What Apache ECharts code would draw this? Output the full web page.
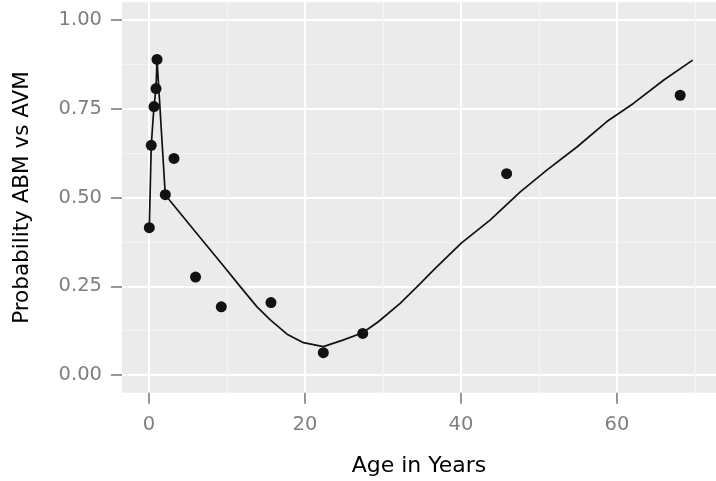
<!DOCTYPE html>
<html>
<head>
<meta charset="utf-8">
<script src="https://cdn.jsdelivr.net/npm/echarts@6/dist/echarts.min.js"></script>
<style>
html,body{margin:0;padding:0;background:#fff;}
#chart{width:716px;height:481px;}
</style>
</head>
<body>
<div id="chart"></div>
<script>
// Observed data points (age in years, probability ABM vs AVM)
var pointAges  = [0.04, 0.29, 0.64, 0.90, 1.03, 2.09, 3.2, 5.97, 9.27, 15.64, 22.35, 27.4, 45.85, 68.1];
var pointProbs = [0.415, 0.647, 0.756, 0.807, 0.889, 0.508, 0.610, 0.276, 0.192, 0.204, 0.063, 0.117, 0.567, 0.788];

// Fitted curve
var fitAges  = [0.04, 0.29, 0.64, 0.90, 1.03, 2.09, 5.97, 9.27, 11.7, 13.85, 15.55, 17.7, 19.8, 22.35, 24.95, 27.4, 29.4, 32.2, 34.8, 36.5, 40.0, 43.76, 47.6, 51.0, 54.9, 58.7, 62.1, 66.0, 69.7];
var fitProbs = [0.415, 0.647, 0.756, 0.807, 0.889, 0.507, 0.403, 0.315, 0.249, 0.192, 0.155, 0.115, 0.091, 0.080, 0.099, 0.119, 0.150, 0.202, 0.258, 0.296, 0.371, 0.437, 0.516, 0.577, 0.643, 0.714, 0.765, 0.831, 0.887];

// Tick values
var xMajorTicks = [0, 20, 40, 60];
var xMinorTicks = [10, 30, 50, 70];
var yMajorTicks = [0, 0.25, 0.5, 0.75, 1.0];
var yMinorTicks = [0.125, 0.375, 0.625, 0.875];

var xTitle = 'Age in Years';
var yTitle = 'Probability ABM vs AVM';

var X_MIN = -3.46, X_MAX = 72.69, Y_MIN = -0.05, Y_MAX = 1.05;
var FONT = 'DejaVu Sans';

var chart = echarts.init(document.getElementById('chart'), null, {renderer: 'canvas'});

function pairs(xs, ys){ return xs.map(function(x, i){ return [x, ys[i]]; }); }

var option = {
  backgroundColor: '#ffffff',
  animation: false,
  grid: {
    left: 122, top: 2.25, right: 0, bottom: 88.25,
    containLabel: false, outerBoundsMode: 'none',
    show: true, backgroundColor: '#EBEBEB', borderWidth: 0
  },
  xAxis: [
    { // minor grid
      type: 'value', min: X_MIN, max: X_MAX, position: 'bottom',
      axisLine: {show: false, onZero: false}, axisLabel: {show: false},
      axisTick: {show: false, customValues: xMinorTicks},
      splitLine: {show: true, lineStyle: {color: '#F5F5F5', width: 1.2}}
    },
    { // major
      type: 'value', min: X_MIN, max: X_MAX, position: 'bottom',
      name: xTitle, nameLocation: 'middle', nameGap: 63, nameMoveOverlap: false,
      nameTextStyle: {fontFamily: FONT, fontSize: 22, color: '#000000'},
      axisLine: {show: false, onZero: false},
      axisTick: {show: true, inside: false, length: 11, customValues: xMajorTicks, lineStyle: {color: '#8c8c8c', width: 1.8}},
      axisLabel: {show: true, customValues: xMajorTicks, margin: 22, fontFamily: FONT, fontSize: 19.5, color: '#7F7F7F',
        formatter: function(v){ return String(v); }},
      splitLine: {show: true, lineStyle: {color: '#FFFFFF', width: 2}}
    }
  ],
  yAxis: [
    { // minor grid
      type: 'value', min: Y_MIN, max: Y_MAX, position: 'left',
      axisLine: {show: false, onZero: false}, axisLabel: {show: false},
      axisTick: {show: false, customValues: yMinorTicks},
      splitLine: {show: true, lineStyle: {color: '#F5F5F5', width: 1.2}}
    },
    { // major
      type: 'value', min: Y_MIN, max: Y_MAX, position: 'left',
      name: yTitle, nameLocation: 'middle', nameGap: 89, nameMoveOverlap: false,
      nameTextStyle: {fontFamily: FONT, fontSize: 21.5, color: '#000000'},
      axisLine: {show: false, onZero: false},
      axisTick: {show: true, inside: false, length: 11, customValues: yMajorTicks, lineStyle: {color: '#8c8c8c', width: 1.8}},
      axisLabel: {show: true, customValues: yMajorTicks, margin: 20, fontFamily: FONT, fontSize: 19.5, color: '#7F7F7F',
        formatter: function(v){ return v.toFixed(2); }},
      splitLine: {show: true, lineStyle: {color: '#FFFFFF', width: 2}}
    }
  ],
  series: [
    {
      type: 'line', xAxisIndex: 1, yAxisIndex: 1,
      data: pairs(fitAges, fitProbs),
      showSymbol: false, symbol: 'none',
      lineStyle: {color: '#111111', width: 1.7},
      silent: true, z: 2
    },
    {
      type: 'scatter', xAxisIndex: 1, yAxisIndex: 1,
      data: pairs(pointAges, pointProbs),
      symbol: 'circle', symbolSize: 11,
      itemStyle: {color: '#111111', opacity: 1},
      silent: true, z: 3
    }
  ]
};
chart.setOption(option);
</script>
</body>
</html>
